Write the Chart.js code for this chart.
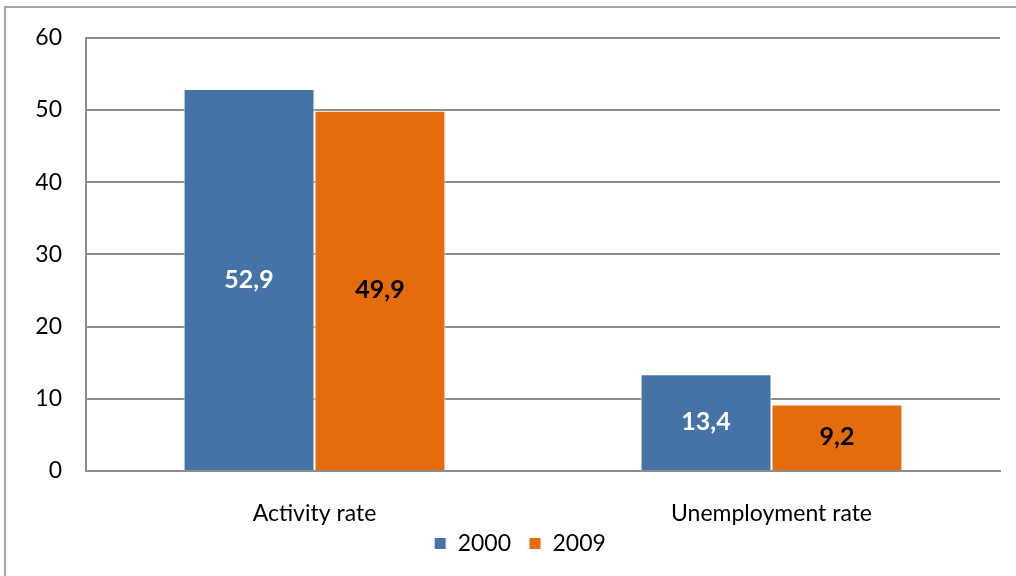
<!DOCTYPE html>
<html>
<head>
<meta charset="utf-8">
<script src="https://cdn.jsdelivr.net/npm/chart.js@4/dist/chart.umd.min.js"></script>
<style>
    html, body { margin: 0; padding: 0; background: #ffffff; overflow: hidden; }
    #wrap { position: relative; width: 1016px; height: 576px; }
    #frame { position: absolute; left: 4px; top: 6px; width: 1100px; height: 700px;
             border: 2px solid #a6a6a6; box-sizing: border-box; pointer-events: none; }
</style>
</head>
<body>
<div id="wrap">
    <canvas id="chart" width="1016" height="576"></canvas>
    <div id="frame"></div>
</div>
<script>
// chart data
var categories = ['Activity rate', 'Unemployment rate'];
var years = ['2000', '2009'];
var values2000 = [52.9, 13.4];
var values2009 = [49.9, 9.2];
var yTicks = [0, 10, 20, 30, 40, 50, 60];

const FONT = 'Lato, Calibri, "Liberation Sans", sans-serif';

// draw the value inside each bar, centred, with a comma decimal
const barLabels = {
    id: 'barLabels',
    afterDatasetsDraw(chart) {
        const ctx = chart.ctx;
        ctx.save();
        ctx.font = 'bold 25px ' + FONT;
        ctx.textAlign = 'center';
        ctx.textBaseline = 'middle';
        chart.data.datasets.forEach((ds, i) => {
            chart.getDatasetMeta(i).data.forEach((bar, j) => {
                ctx.fillStyle = i === 0 ? '#ffffff' : '#000000';
                let txt = ds.data[j].toFixed(1).replace('.', ',');
                ctx.fillText(txt, bar.x, (bar.y + bar.base) / 2);
            });
        });
        ctx.restore();
    }
};

// the tick labels sit outside their (squeezed) scale boxes, so don't clip them
const openLabels = {
    id: 'openLabels',
    beforeDraw(chart) {
        chart.scales.x._computeLabelArea = () => undefined;
        chart.scales.y._computeLabelArea = () => undefined;
    }
};

var canvas = document.querySelector('#chart');
var myChart = new Chart(canvas, {
    type: 'bar',
    data: {
        labels: categories,
        datasets: [
            {
                label: years[0],
                data: values2000,
                backgroundColor: '#4573a7',
                borderColor: '#ffffff',
                borderWidth: 1,
                barPercentage: 1.0,
                categoryPercentage: 0.573
            },
            {
                label: years[1],
                data: values2009,
                backgroundColor: '#e46c0a',
                borderColor: '#ffffff',
                borderWidth: 1,
                barPercentage: 1.0,
                categoryPercentage: 0.573
            }
        ]
    },
    options: {
        responsive: false,
        animation: false,
        devicePixelRatio: 1,
        layout: { padding: { left: 40, right: 16, top: 26, bottom: 22 } },
        plugins: {
            tooltip: { enabled: false },
            legend: {
                position: 'bottom',
                maxHeight: 40,
                labels: {
                    boxWidth: 12,
                    boxHeight: 12,
                    padding: 18,
                    color: '#000000',
                    font: { family: FONT, size: 23 }
                }
            }
        },
        scales: {
            x: {
                afterFit(scale) { scale.height = 43; },
                grid: { display: false, drawTicks: false },
                border: { display: true, color: '#8c8c8c', width: 2 },
                ticks: { color: '#000000', padding: 29, font: { family: FONT, size: 23 } }
            },
            y: {
                min: 0,
                max: 60,
                afterBuildTicks(scale) {
                    scale.ticks = yTicks.map(v => ({ value: v }));
                },
                afterFit(scale) { scale.width = 46; },
                grid: { color: '#8c8c8c', lineWidth: 2, drawTicks: false },
                border: { display: true, color: '#8c8c8c', width: 2 },
                ticks: { color: '#000000', padding: 24, font: { family: FONT, size: 23 } }
            }
        }
    },
    plugins: [barLabels, openLabels]
});
</script>
</body>
</html>
